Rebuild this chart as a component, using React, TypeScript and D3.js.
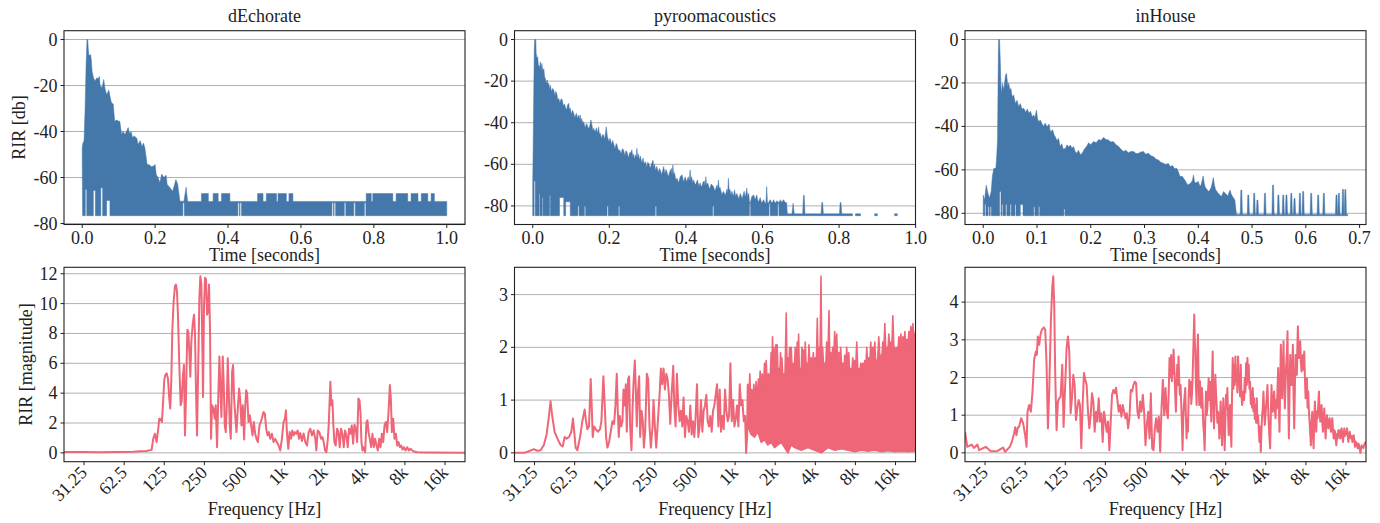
import React from "react";
import * as d3 from "d3";

type Pt = [number, number];
type Span = [number, number, number];

const FONT = "'Liberation Serif', 'Times New Roman', Times, serif";
const BLUE = "#4477AA";
const PINK = "#EE6677";
const INK = "#222222";
const GRID = "#b0b0b0";

// ---------- tick / label data ----------
const TITLES = ["dEchorate", "pyroomacoustics", "inHouse"];
const DB_TICKS = [0, -20, -40, -60, -80];
const TIME_TICKS_A = [0, 0.2, 0.4, 0.6, 0.8, 1.0];
const TIME_TICKS_C = [0, 0.1, 0.2, 0.3, 0.4, 0.5, 0.6, 0.7];
const FREQ_TICKS = [31.25, 62.5, 125, 250, 500, 1000, 2000, 4000, 8000, 16000];
const FREQ_LABELS = ["31.25", "62.5", "125", "250", "500", "1k", "2k", "4k", "8k", "16k"];
const FREQ_LIMITS: [number, number] = [22.1, 22600];
const MAG_TICKS_A = [0, 2, 4, 6, 8, 10, 12];
const MAG_TICKS_B = [0, 1, 2, 3];
const MAG_TICKS_C = [0, 1, 2, 3, 4];

// ---------- RIR (dB) data: upper envelope, floor, bumps, notches ----------
const DECH_FLOOR = -76.6;
const DECH_BAND = -70.4;
const DECH_TOP_EARLY: Pt[] = [
  [0.000, -47], [0.002, -45], [0.005, -44], [0.0077, -31], [0.0105, -12], [0.013, 0], [0.015, 0],
  [0.017, -5], [0.018, -6.5], [0.021, -7], [0.023, -6.5], [0.025, -9], [0.027, -13.8], [0.031, -16.7],
  [0.035, -18], [0.040, -16.7], [0.045, -17], [0.047, -16], [0.049, -20], [0.054, -21], [0.057, -19], [0.059, -17.4],
  [0.062, -21], [0.067, -24], [0.070, -23], [0.073, -22], [0.076, -24.6], [0.080, -27.5], [0.085, -28],
  [0.089, -35.5], [0.095, -35], [0.100, -35.5], [0.103, -35.5], [0.108, -41.3], [0.112, -40], [0.117, -41.3],
  [0.122, -39.8], [0.126, -38.3], [0.130, -41], [0.134, -40], [0.138, -42.6], [0.143, -42], [0.150, -43], [0.153, -45.6],
  [0.159, -44], [0.164, -46.5], [0.168, -45], [0.172, -47.3], [0.178, -54.3], [0.184, -54.5], [0.190, -55.3],
  [0.196, -55], [0.200, -54.3], [0.203, -58.7], [0.208, -60], [0.213, -62.3], [0.218, -58.5], [0.224, -60], [0.230, -59], [0.233, -63],
  [0.241, -64.5], [0.248, -66], [0.257, -60.9], [0.262, -63], [0.268, -70.3], [0.279, -70.3],
  [0.285, -64.2], [0.289, -70.3], [0.292, -70.4],
];
const DECH_BUMPS: Span[] = [
  [0.327, 0.346, -67], [0.359, 0.373, -67], [0.382, 0.405, -67], [0.481, 0.496, -67],
  [0.505, 0.533, -67], [0.537, 0.560, -67], [0.567, 0.578, -67], [0.779, 0.793, -67],
  [0.797, 0.852, -67], [0.861, 0.893, -67], [0.902, 0.921, -67], [0.930, 0.948, -67], [0.957, 0.966, -67],
];
const DECH_BOTTOM_START: Pt[] = [[0.000, -52], [0.001, -76.6]];
const DECH_NOTCHES: Span[] = [
  [0.0085, 0.0123, -65.2], [0.0305, 0.036, -65.6], [0.051, 0.056, -64.5], [0.067, 0.076, -70],
  [0.276, 0.280, -71], [0.427, 0.431, -71], [0.433, 0.437, -71], [0.685, 0.689, -71], [0.691, 0.695, -71],
  [0.719, 0.723, -71], [0.745, 0.749, -71], [0.774, 0.778, -71],
];
const DECH_END = 1.0;

const PYRO_FLOOR = -84.7;
const PYRO_TOP: Pt[] = [
  [0, -70], [0.0017, -42], [0.004, -5], [0.005, 0], [0.008, 0], [0.009, -6.7], [0.011, -9], [0.013, -8.3], [0.015, -13],
  [0.0165, -12.3], [0.018, -14], [0.02, -10.7], [0.022, -14], [0.024, -11.5], [0.026, -15], [0.029, -14], [0.031, -18],
  [0.033, -18.7], [0.035, -21], [0.038, -19.5], [0.040, -22], [0.042, -21], [0.044, -24], [0.046, -22], [0.049, -25],
  [0.052, -23.5], [0.055, -24.3], [0.058, -27], [0.060, -25], [0.063, -26], [0.065, -29], [0.068, -28.3], [0.071, -30.5],
  [0.074, -28.5], [0.077, -29], [0.080, -32], [0.083, -31], [0.085, -32.3], [0.088, -34], [0.091, -31.5], [0.094, -30.7],
  [0.096, -34], [0.098, -33], [0.101, -36], [0.104, -34], [0.107, -35.5], [0.110, -37.5], [0.114, -35.5], [0.117, -38],
  [0.12, -36.3], [0.122, -38.5], [0.124, -36.3], [0.126, -39.5], [0.128, -38], [0.131, -40.5], [0.133, -39.5],
  [0.137, -42.5], [0.14, -40.5], [0.142, -41], [0.146, -43], [0.149, -41.5], [0.152, -38.7], [0.155, -41.5],
  [0.157, -44], [0.159, -42.7], [0.163, -44.5], [0.166, -42.5], [0.169, -45], [0.172, -42], [0.174, -45.5],
  [0.176, -45], [0.18, -47.5], [0.183, -45.5], [0.185, -46], [0.188, -48], [0.19, -45], [0.192, -42], [0.195, -46.7],
  [0.199, -49], [0.202, -47.5], [0.206, -50.5], [0.209, -48.5], [0.211, -50], [0.215, -52.5], [0.218, -50],
  [0.22, -50.7], [0.224, -53.5], [0.227, -53], [0.231, -55], [0.234, -52.5], [0.237, -53], [0.241, -56],
  [0.243, -53.5], [0.246, -54], [0.25, -57], [0.253, -54.5], [0.256, -54.5], [0.259, -53], [0.261, -56.5],
  [0.263, -55], [0.266, -57.5], [0.268, -55.5], [0.270, -57], [0.272, -52.3], [0.274, -57], [0.276, -55],
  [0.279, -58], [0.281, -56], [0.285, -59.5], [0.288, -57], [0.291, -60], [0.294, -58.7], [0.298, -61.5], [0.3, -59],
  [0.303, -59.5], [0.307, -62], [0.31, -60], [0.314, -58], [0.316, -61.5], [0.318, -60], [0.321, -63], [0.324, -61],
  [0.328, -64], [0.331, -62], [0.333, -62.7], [0.337, -65], [0.34, -62.5], [0.342, -61], [0.345, -64.5],
  [0.348, -62.5], [0.35, -63.5], [0.354, -66], [0.358, -63.5], [0.362, -62], [0.364, -65], [0.366, -60.3],
  [0.368, -65], [0.37, -64], [0.374, -67.5], [0.377, -66.7], [0.381, -69], [0.385, -66], [0.39, -65], [0.394, -68.5],
  [0.398, -66], [0.402, -68.5], [0.406, -66], [0.409, -68], [0.411, -62.7], [0.413, -67.5], [0.415, -66],
  [0.418, -69], [0.42, -67.5], [0.425, -70], [0.43, -67.5], [0.434, -70.5], [0.437, -69], [0.441, -71],
  [0.445, -68.5], [0.448, -68], [0.45, -70.5], [0.452, -66], [0.454, -70], [0.457, -69], [0.462, -72],
  [0.466, -69.5], [0.472, -70.7], [0.476, -73], [0.481, -70], [0.483, -72], [0.485, -67.5], [0.487, -72],
  [0.489, -71], [0.494, -74.5], [0.498, -73], [0.503, -75], [0.507, -72], [0.509, -74], [0.511, -66.7],
  [0.513, -73], [0.515, -72], [0.518, -75], [0.52, -73], [0.524, -75.5], [0.527, -72.3], [0.53, -75.5],
  [0.533, -74], [0.538, -76.5], [0.542, -74], [0.547, -76.5], [0.552, -73], [0.555, -76], [0.559, -71.5],
  [0.561, -75.5], [0.564, -74], [0.566, -78], [0.568, -78.7], [0.572, -75.5], [0.577, -74.7], [0.581, -77],
  [0.585, -74.7], [0.588, -77.5], [0.59, -78], [0.594, -76], [0.598, -78.7], [0.603, -77], [0.607, -78.7],
  [0.609, -78.5], [0.611, -70.7], [0.613, -78.5], [0.615, -78.7], [0.62, -77], [0.625, -78.7], [0.629, -77],
  [0.633, -78.7], [0.638, -77.5], [0.643, -78.5], [0.647, -77], [0.65, -78.4], [0.655, -77], [0.659, -78.4],
  [0.663, -78.4], [0.665, -83.8], [0.677, -83.8], [0.68, -78.7], [0.683, -83.8], [0.705, -83.8], [0.707, -75],
  [0.709, -75], [0.711, -83.8], [0.753, -83.8], [0.755, -78.4], [0.757, -78.4], [0.759, -83.8], [0.801, -83.8],
  [0.803, -78.4], [0.805, -78.4], [0.807, -83.8], [0.835, -83.8],
];
const PYRO_NOTCHES: Span[] = [
  [0.0035, 0.0065, -68], [0.017, 0.019, -74], [0.025, 0.027, -76], [0.044, 0.046, -75], [0.070, 0.081, -76],
  [0.086, 0.098, -78], [0.118, 0.121, -80], [0.135, 0.138, -80], [0.194, 0.197, -80], [0.224, 0.227, -80],
  [0.320, 0.323, -80], [0.470, 0.473, -80], [0.566, 0.569, -79], [0.617, 0.620, -79], [0.640, 0.643, -79],
];
const PYRO_END = 0.835;
const PYRO_DASHES: Span[] = [[0.843, 0.856, -83.8], [0.893, 0.900, -83.8], [0.945, 0.952, -83.8]];

const INH_FLOOR = -81.1;
const INH_BASE = -80.5;
const INH_TOP_EARLY: Pt[] = [
  [0.000, -71.6], [0.0025, -73.9], [0.0056, -67], [0.0087, -70.8], [0.0117, -73], [0.0148, -70], [0.017, -63],
  [0.0198, -59.3], [0.0235, -59.3], [0.025, -54], [0.0266, -46.3], [0.028, -10], [0.0285, 0], [0.0303, 0],
  [0.0315, -8], [0.0334, -24.8], [0.0359, -20.2], [0.0383, -23.3], [0.0414, -16.4], [0.0433, -15.6],
  [0.0458, -21.8], [0.0475, -20], [0.0495, -23.3], [0.0515, -22.5], [0.0538, -26.4], [0.0565, -25.5], [0.060, -29.4],
  [0.063, -28], [0.066, -31], [0.069, -29.5], [0.072, -32], [0.0755, -31.7], [0.079, -33.5], [0.082, -32], [0.085, -34],
  [0.088, -33], [0.091, -35.5], [0.094, -34.8], [0.096, -36], [0.099, -32.5], [0.101, -36.5], [0.103, -37.9],
  [0.106, -37], [0.109, -38.6], [0.112, -40], [0.115, -38.5], [0.119, -40.2], [0.1225, -38.9], [0.124, -41.5],
  [0.126, -42.5], [0.129, -41.5], [0.132, -44], [0.134, -44.8], [0.137, -46.5], [0.14, -45.5], [0.143, -49.3],
  [0.146, -48], [0.149, -50.5], [0.153, -50.1], [0.156, -48.5], [0.159, -49.5], [0.162, -48.6], [0.165, -50],
  [0.168, -49.3], [0.171, -51.5], [0.174, -52.4], [0.177, -51], [0.181, -53], [0.184, -52.4], [0.188, -50.5],
  [0.192, -49.3], [0.194, -48.5], [0.196, -47.5], [0.2, -48.5], [0.205, -47], [0.21, -47.5], [0.215, -46],
  [0.219, -46.5], [0.224, -45], [0.228, -46], [0.233, -46.3], [0.237, -47.2], [0.242, -47], [0.247, -48.5],
  [0.252, -49.3], [0.256, -50.5], [0.261, -51.6], [0.265, -51], [0.270, -52.1], [0.275, -51.5], [0.280, -51.6],
  [0.284, -52.5], [0.289, -52.4], [0.293, -51.8], [0.298, -51.6], [0.302, -52.8], [0.307, -52.4], [0.312, -53.5],
  [0.317, -54], [0.321, -55], [0.326, -55.5], [0.33, -56.5], [0.335, -57], [0.34, -57.5], [0.344, -57],
  [0.348, -58.5], [0.352, -58], [0.356, -59.5], [0.360, -59.3], [0.363, -61], [0.366, -63.1], [0.37, -63],
  [0.375, -64.7], [0.378, -66], [0.381, -67], [0.386, -66], [0.389, -65], [0.391, -62.4], [0.393, -65.5],
  [0.395, -66], [0.4, -65.4], [0.403, -67.5], [0.405, -67], [0.407, -65], [0.409, -62.8], [0.411, -66],
  [0.413, -68], [0.419, -70], [0.422, -69], [0.424, -68], [0.426, -66], [0.428, -63.5], [0.430, -67], [0.432, -69],
  [0.437, -70.8], [0.443, -72.3], [0.447, -70], [0.450, -70.8], [0.455, -72], [0.457, -70.5], [0.459, -69.3],
  [0.461, -71], [0.463, -72], [0.468, -73.9], [0.471, -80.5],
];
const INH_SPIKES: Pt[] = [
  [0.480, -69.3], [0.493, -71.6], [0.504, -70.8], [0.510, -73.9], [0.524, -70.8], [0.539, -67], [0.549, -71.6],
  [0.558, -71.6], [0.564, -71.6], [0.573, -70.8], [0.579, -73.2], [0.589, -70.8], [0.595, -70], [0.610, -70.8],
  [0.623, -71.6], [0.6335, -70.8], [0.657, -71.6], [0.6615, -70.8], [0.669, -69], [0.6735, -69],
];
const INH_NOTCHES: Span[] = [
  [0.003, 0.005, -76], [0.009, 0.011, -77], [0.013, 0.015, -77], [0.0305, 0.033, -70], [0.0345, 0.0365, -76],
  [0.042, 0.044, -76], [0.050, 0.052, -76], [0.059, 0.061, -76], [0.069, 0.074, -76], [0.094, 0.096, -77],
  [0.103, 0.105, -77], [0.150, 0.152, -78],
];
const INH_END = 0.678;

// ---------- frequency response data [Hz, magnitude] ----------
const DECH_FREQ: Pt[] = [
  [22.1, 0.05], [31, 0.05], [41, 0.04], [54.7, 0.05], [73, 0.07], [82, 0.1], [92, 0.12], [100.4, 0.2], [103.3, 0.94],
  [106.3, 1.28], [109.5, 0.72], [112.7, 1.62], [114.6, 2.29], [117.3, 2.25], [120.1, 2.07], [122.9, 3.64], [125, 4.88],
  [127.2, 5.21], [130.2, 5.33], [133.2, 4.99], [136.3, 3.64], [138.7, 2.97], [141.1, 4.76], [143.6, 8.13], [147, 10.16],
  [150.4, 11.17], [153, 11.28], [155.7, 10.83], [158.4, 9.26], [162.1, 5.89], [165.9, 3.19], [168.8, 3.42], [172.7, 5.21],
  [175.8, 5.89], [178.8, 1.17], [181.9, 3.64], [186.2, 8.25], [189.5, 8.13], [192.8, 6.79], [196.1, 5.1], [199.6, 7.46],
  [204.2, 8.58], [209, 9.26], [212.7, 7.91], [216.4, 4.09], [220.2, 1.17], [224, 4.99], [229.3, 10.38], [233.3, 11.84],
  [237.3, 11.28], [241.5, 7.01], [244.3, 3.75], [248.6, 9.93], [252.9, 11.73], [257.3, 11.62], [261.8, 9.26],
  [266.4, 9.48], [271.1, 11.28], [275.8, 8.13], [280.6, 0.94], [285.5, 3.19], [292.2, 2.97], [299, 2.29], [304.3, 3.19],
  [311.4, 0.38], [318.7, 4.09], [324.2, 6.45], [329.9, 4.31], [335.7, 2.4], [343.5, 6.45], [349.5, 4.54], [355.6, 1.84],
  [361.8, 1.39], [368.1, 3.19], [374.6, 6.34], [381.1, 4.09], [387.8, 1.84], [394.6, 0.94], [403.8, 5.44], [410.8, 5.89],
  [418, 3.64], [427.8, 2.29], [435.3, 1.39], [445.5, 2.97], [455.9, 4.31], [463.9, 3.64], [474.7, 1.84], [485.8, 3.19],
  [497.1, 0.9], [505.8, 2.97], [514.7, 4.2], [523.7, 3.98], [535.9, 2.07], [548.4, 2.52], [561.3, 1.84], [574.4, 1.17],
  [587.8, 2.07], [601.5, 1.28], [615.6, 0.94], [630, 0.72], [648.4, 1.84], [663.6, 2.07], [679.1, 2.4], [695, 2.74],
  [711.2, 2.6], [727.8, 1.62], [744.8, 1.17], [762.3, 1.39], [780.1, 0.94], [802.9, 1.28], [826.5, 0.72], [850.7, 0.94],
  [875.6, 0.72], [901.3, 0.49], [927.7, 0.16], [954.9, 0.94], [982.8, 2.07], [1006, 2.29], [1023, 2.85], [1041, 1.39],
  [1066, 0.27], [1091, 1.39], [1116, 0.94], [1142, 1.5], [1169, 1.17], [1196, 1.39], [1224, 1.28], [1253, 1.5],
  [1282, 0.94], [1312, 1.33], [1350, 0.8], [1390, 1.3], [1431, 0.72], [1473, 0.49], [1516, 1.39], [1560, 1.62],
  [1606, 1.17], [1653, 1.5], [1701, 0.94], [1731, 0.16], [1772, 1.5], [1823, 1.39], [1877, 0.94], [1921, 1.06],
  [1966, 0.72], [2012, 0.16], [2059, 0.04], [2107, 0.83], [2144, 1.84], [2181, 3.64], [2206, 4.76], [2245, 3.19],
  [2284, 3.53], [2324, 1.84], [2365, 0.72], [2420, 0.49], [2477, 1.62], [2534, 1.39], [2594, 0.38], [2654, 1.62],
  [2716, 1.28], [2780, 0.38], [2845, 1.5], [2911, 1.17], [2979, 0.38], [3049, 1.62], [3120, 1.28], [3193, 1.84],
  [3268, 0.61], [3344, 1.89], [3422, 1.62], [3502, 0.72], [3584, 3.64], [3647, 3.53], [3711, 2.74], [3775, 0.72],
  [3842, 0.16], [3931, 0.38], [4023, 0.04], [4117, 2.07], [4189, 2.18], [4262, 1.39], [4362, 0.94], [4464, 0.38],
  [4568, 1.28], [4675, 0.38], [4784, 0.94], [4896, 0.49], [5011, 0.16], [5128, 0.94], [5248, 0.38], [5370, 1.28],
  [5496, 0.72], [5624, 1.84], [5756, 2.07], [5890, 1.39], [6028, 2.74], [6169, 4.54], [6276, 3.64], [6386, 1.39],
  [6536, 2.29], [6688, 0.94], [6845, 1.28], [7005, 0.49], [7169, 0.72], [7336, 0.38], [7508, 0.49], [7683, 0.22],
  [7862, 0.38], [8093, 0.16], [8330, 0.38], [8574, 0.16], [8826, 0.27], [9084, 0.16], [9350, 0.09], [9906, 0.04],
  [11780, 0.02], [22600, 0.0],
];

const PYRO_FREQ: Pt[] = [
  [22.1, 0], [26, 0], [28.3, 0.03], [30.9, 0.07], [32.7, 0.04], [34.7, 0.05], [36.7, 0.15], [38.5, 0.35], [40.1, 0.7],
  [41.2, 0.98], [42.4, 0.7], [44.2, 0.4], [46.8, 0.25], [49, 0.15], [50.8, 0.12], [52.6, 0.3], [54.4, 0.27], [56.7, 0.3],
  [59, 0.4], [60.7, 0.65], [61.8, 0.45], [63.6, 0.1], [65.5, 0.05], [68.6, 0.3], [71.4, 0.6], [74.3, 0.82], [76.1, 0.6],
  [77.8, 0.45], [80.1, 0.5], [82.5, 1.4], [83.9, 0.9], [85.4, 0.3], [87.4, 0.5], [89.9, 0.45], [93.6, 0.4], [96.9, 0.45],
  [99.2, 0.6], [102.7, 1.45], [105.1, 0.9], [107.6, 0.3], [110.1, 0.1], [113.3, 0.2], [116.6, 0.4], [120.1, 0.6],
  [123.6, 0.55], [126.5, 0.9], [129.4, 1.5], [131.7, 0.8], [134, 0.3], [136.3, 0.7], [139.5, 0.5], [142.8, 0.6],
  [145.3, 1.2], [148.7, 0.9], [151.3, 1.3], [153.9, 0.4], [157.5, 1.4], [160.3, 1.45], [163, 0.5], [166.9, 0.05],
  [169.8, 0.8], [172.7, 1.3], [176.8, 1.75], [179.9, 1.2], [183, 0.5], [186.2, 1.1], [190.6, 1.45], [193.9, 0.3],
  [198.4, 0.8], [203.1, 0.6], [206.6, 0.1], [211.4, 0.4], [217.6, 1.5], [222.7, 1.4], [227.9, 0.5], [233.3, 0.1],
  [240.1, 0.5], [244.3, 1.0], [250, 0.5], [255.9, 0.1], [261.8, 0.5], [271.1, 1.1], [277.4, 1.6], [283.9, 1.3],
  [290.5, 1.6], [297.3, 1.2], [304.3, 1.5], [311.4, 1.4], [318.7, 1.1], [326.1, 0.55], [333.7, 1.1], [343.5, 1.65],
  [349.5, 0.9], [357.7, 0.5], [366, 1.5], [374.6, 0.9], [383.3, 0.6], [392.3, 0.8], [401.5, 0.5], [410.8, 1.05],
  [420.5, 0.3], [430.3, 0.7], [440.4, 0.6], [450.6, 0.4], [461.2, 0.9], [471.9, 0.35], [483, 0.6], [494.3, 0.3],
  [505.8, 0.7], [517.7, 1.3], [529.8, 0.3], [542.1, 0.5], [554.8, 1.0], [567.8, 0.4], [581, 0.8], [594.6, 0.9],
  [608.5, 1.1], [622.7, 0.6], [637.3, 0.5], [652.2, 0.7], [667.4, 0.4], [683, 0.8], [699, 0.9], [715.3, 1.1],
  [732, 1.3], [749.1, 0.5], [766.7, 1.2], [784.6, 0.4], [802.9, 0.7], [821.7, 0.45], [840.9, 1.2], [860.6, 0.8],
  [880.7, 0.6], [901.3, 0.7], [922.3, 1.7], [943.9, 0.6], [966, 1.0], [988.5, 0.5], [1012, 0.65], [1035, 0.9],
  [1059, 0.5], [1084, 1.3], [1110, 0.9], [1135, 1.0], [1162, 0.6], [1189, 0.7], [1210, 0.0], [1231, 0.3], [1245, 1.3],
];
const PYRO_BAND_HI: Pt[] = [
  [1245, 1.3], [1265, 0.9], [1289, 1.5], [1310, 1.0], [1335, 1.2], [1360, 0.9], [1382, 1.3], [1410, 1.0], [1439, 1.35],
  [1468, 1.0], [1498, 1.4], [1520, 1.1], [1542, 1.55], [1570, 1.2], [1597, 1.5], [1630, 1.2], [1663, 1.7], [1690, 1.3],
  [1711, 1.75], [1745, 1.3], [1782, 1.5], [1825, 1.3], [1866, 1.9], [1888, 1.5], [1910, 2.2], [1932, 1.6], [1954, 2.0],
  [1990, 1.5], [2023, 2.05], [2047, 1.6], [2071, 2.05], [2100, 1.5], [2131, 1.6], [2160, 1.4], [2194, 1.9], [2220, 1.5],
  [2245, 1.8], [2285, 1.4], [2324, 1.5], [2370, 1.5], [2420, 2.65], [2455, 1.6], [2491, 1.8], [2527, 1.5], [2564, 2.0],
  [2600, 1.6], [2639, 2.0], [2685, 1.5], [2732, 1.7], [2780, 1.5], [2828, 2.0], [2878, 1.6], [2928, 2.1], [2962, 1.7],
  [2997, 2.25], [3040, 1.5], [3084, 1.6], [3130, 1.5], [3175, 2.0], [3220, 1.6], [3268, 1.95], [3315, 1.6], [3364, 2.1],
  [3420, 1.6], [3482, 1.7], [3530, 1.5], [3584, 2.05], [3660, 1.6], [3732, 1.8], [3800, 1.6], [3864, 1.9], [3930, 1.6],
  [4000, 1.8], [4070, 1.7], [4141, 2.55], [4200, 1.7], [4262, 2.0], [4335, 1.7], [4413, 3.35], [4475, 1.8], [4542, 2.0],
  [4620, 1.6], [4702, 1.7], [4785, 1.6], [4868, 2.1], [4965, 1.8], [5069, 2.7], [5140, 1.7], [5217, 1.9], [5310, 1.7],
  [5402, 2.0], [5495, 1.8], [5592, 2.3], [5690, 1.8], [5789, 2.25], [5890, 1.7], [5993, 1.9], [6100, 1.7], [6204, 2.0],
  [6310, 1.6], [6423, 1.7], [6535, 1.5], [6650, 1.85], [6765, 1.6], [6884, 2.0], [7005, 1.6], [7127, 1.9], [7250, 1.5],
  [7378, 1.6], [7510, 1.5], [7639, 1.8], [7770, 1.6], [7908, 1.75], [8045, 1.6], [8187, 2.1], [8330, 1.6], [8476, 1.6],
  [8625, 1.5], [8774, 1.7], [8930, 1.6], [9084, 1.7], [9245, 1.6], [9405, 1.75], [9570, 1.6], [9736, 2.0], [9905, 1.6],
  [10079, 1.8], [10255, 1.7], [10434, 2.1], [10620, 1.7], [10803, 2.0], [10990, 1.8], [11183, 2.1], [11380, 1.7],
  [11578, 1.7], [11780, 1.8], [11986, 2.2], [12195, 1.8], [12409, 1.85], [12625, 1.8], [12846, 2.1], [13070, 1.9],
  [13300, 2.45], [13530, 1.9], [13769, 2.0], [14010, 1.9], [14254, 2.25], [14505, 1.9], [14757, 2.1], [15015, 2.0],
  [15275, 2.6], [15545, 2.0], [15816, 2.0], [16090, 1.9], [16374, 2.0], [16660, 1.9], [16952, 2.2], [17250, 2.0],
  [17549, 2.25], [17855, 2.0], [18168, 2.2], [18485, 2.0], [18810, 2.3], [19140, 2.0], [19472, 2.15], [19810, 2.0],
  [20158, 2.3], [20510, 2.1], [20869, 2.4], [21235, 2.1], [21606, 2.45], [22000, 2.1], [22600, 2.3],
];
const PYRO_BAND_LO: Pt[] = [
  [1245, 0.5], [1320, 0.35], [1398, 0.3], [1481, 0.4], [1569, 0.2], [1663, 0.25], [1761, 0.15], [1866, 0.2],
  [1977, 0.1], [2095, 0.15], [2219, 0.2], [2491, 0.0], [2639, 0.15], [2796, 0.1], [3138, 0.05], [3523, 0.1],
  [3954, 0.05], [4438, 0.0], [4982, 0.1], [5592, 0.05], [6276, 0.08], [7046, 0.05], [7908, 0.02], [8877, 0.05],
  [9963, 0.03], [11183, 0.05], [12553, 0.02], [14091, 0.04], [15816, 0.02], [17754, 0.03], [19927, 0.02],
  [22600, 0.03],
];

const INH_FREQ: Pt[] = [
  [22.1, 0.56], [23, 0.16], [24.8, 0.22], [25.8, 0.13], [27.4, 0.22], [28.2, 0.07], [31.6, 0.16], [34.5, 0.04],
  [38.7, 0.05], [42.7, 0.14], [44.2, 0.03], [47.9, 0.16], [49.6, 0.29], [51.7, 0.52], [52.6, 0.68], [53.8, 0.47],
  [55, 0.67], [56.3, 0.69], [58.3, 0.92], [60.4, 0.78], [62.5, 0.47], [64, 0.16], [65.1, 1.09], [67, 1.27],
  [69, 1.09], [71, 1.63], [73, 2.47], [75.2, 2.69], [76.5, 2.6], [77.8, 3.09], [79.7, 2.87], [81.5, 3.14],
  [83.4, 3.27], [86.4, 3.33], [88.4, 3.27], [90.5, 2.34], [92.6, 0.65], [94.7, 1.63], [97.5, 3.49], [99.8, 4.38],
  [101.5, 4.69], [103.3, 3.94], [105.1, 2.07], [107.6, 0.6], [110.1, 1.36], [112.7, 1.45], [115.3, 1.49],
  [118.7, 2.34], [121.4, 0.69], [124.3, 1.63], [127.9, 2.78], [130.9, 3.09], [134, 2.69], [137.1, 1.05],
  [140.3, 1.45], [143.6, 2.07], [147, 1.8], [150.4, 0.87], [153.9, 1.18], [157.5, 1.4], [161.2, 1.27],
  [164.9, 0.12], [168.8, 1.27], [172.7, 2.12], [176.8, 1.94], [180.9, 1.8], [185.1, 1.09], [189.5, 0.65],
  [193.9, 1.0], [198.4, 1.58], [203.1, 1.36], [207.8, 0.56], [212.7, 1.09], [217.6, 0.83], [222.7, 1.45],
  [227.9, 0.83], [233.3, 1.05], [238.7, 0.29], [244.3, 1.09], [250, 0.83], [255.9, 0.56], [261.8, 0.83],
  [268, 0.07], [274.2, 0.83], [280.6, 1.54], [287.2, 1.67], [293.9, 1.58], [300.8, 1.73], [307.8, 1.4],
  [315, 1.09], [322.4, 1.27], [329.9, 0.96], [337.6, 1.27], [345.5, 1.09], [353.6, 0.92], [361.8, 1.05],
  [370.3, 0.65], [378.9, 0.92], [387.8, 1.67], [396.9, 1.63], [406.1, 1.8], [415.6, 1.89], [425.3, 1.85],
  [435.3, 1.09], [445.5, 0.92], [455.9, 1.36], [466.5, 1.09], [477.4, 1.54], [488.6, 1.09], [500, 0.2],
  [511.7, 0.74], [523.7, 1.09], [535.9, 0.38], [548.4, 1.58], [561.3, 0.12], [574.4, 0.07], [587.8, 0.65],
  [601.5, 0.92], [615.6, 0.56], [630, 0.96], [644.7, 0.03], [659.8, 1.18], [675.2, 1.94], [691, 1.0],
  [707.1, 1.72], [721, 1.1], [736.2, 0.92], [747, 1.6], [757.9, 2.52], [769, 2.0], [780.1, 2.6], [789, 1.9], [798.3, 2.43],
  [805, 2.1], [812.3, 2.74], [826.5, 2.07], [835, 1.6], [845.8, 1.09], [855, 1.8], [865.6, 2.34], [875, 1.8], [885.8, 2.56],
  [896, 1.9], [906.5, 1.54], [917, 1.8], [927.7, 1.27], [938, 0.8], [949.4, 0.07], [960, 0.9], [971.6, 1.27], [983, 1.5],
  [994.3, 1.72], [1005, 1.0], [1017, 0.38], [1029, 0.9], [1041, 0.56], [1053, 1.4], [1066, 1.94], [1078, 1.5],
  [1091, 1.89], [1103, 1.3], [1116, 1.54], [1129, 2.0], [1142, 2.69], [1152, 3.2], [1162, 3.67], [1172, 3.0],
  [1182, 2.78], [1196, 1.8], [1210, 1.27], [1224, 2.4], [1238, 3.14], [1252, 2.0], [1267, 1.27], [1282, 1.9],
  [1297, 1.54], [1312, 1.2], [1327, 1.72], [1342, 1.3], [1358, 0.74], [1374, 0.5], [1390, 0.07], [1406, 0.9],
  [1422, 1.63], [1439, 1.0], [1456, 1.18], [1473, 1.6], [1490, 1.98], [1508, 1.4], [1525, 1.89], [1542, 1.3],
  [1560, 0.83], [1578, 1.9], [1597, 2.69], [1615, 1.5], [1634, 0.65], [1653, 1.4], [1672, 2.07], [1691, 1.6],
  [1711, 1.27], [1731, 0.8], [1751, 1.09], [1771, 0.9], [1792, 0.38], [1813, 0.9], [1834, 1.36], [1855, 0.7],
  [1877, 0.2], [1899, 0.9], [1921, 1.45], [1943, 0.8], [1966, 0.07], [1989, 0.9], [2012, 1.54], [2035, 1.2],
  [2059, 1.72], [2083, 1.0], [2107, 0.47], [2131, 0.9], [2156, 1.27], [2181, 0.6], [2206, 0.16], [2232, 1.5],
  [2258, 2.52], [2284, 1.7], [2311, 2.34], [2338, 1.8], [2365, 2.56], [2392, 1.9], [2420, 2.16], [2448, 1.6],
  [2477, 2.56], [2505, 1.9], [2534, 1.89], [2564, 1.5], [2594, 2.34], [2624, 1.6], [2654, 1.27], [2685, 1.4],
  [2716, 1.63], [2748, 1.4], [2780, 1.98], [2812, 1.6], [2845, 2.38], [2878, 1.8], [2911, 2.52], [2945, 1.9],
  [2979, 2.34], [3014, 1.7], [3049, 1.89], [3084, 1.3], [3120, 1.63], [3156, 1.2], [3193, 1.72], [3230, 1.1],
  [3268, 1.45], [3306, 0.9], [3344, 1.27], [3383, 0.8], [3422, 1.45], [3462, 0.8], [3502, 1.0], [3543, 0.6],
  [3584, 0.29], [3626, 0.7], [3668, 0.03], [3711, 0.6], [3754, 1.0], [3798, 1.2], [3842, 1.63], [3886, 1.1],
  [3931, 0.74], [3977, 1.0], [4023, 1.27], [4070, 1.5], [4117, 1.8], [4165, 1.2], [4213, 0.74], [4262, 0.4],
  [4312, 0.12], [4362, 1.0], [4413, 1.8], [4464, 1.3], [4516, 1.09], [4569, 1.4], [4622, 1.63], [4676, 1.2],
  [4730, 0.92], [4785, 1.4], [4840, 1.18], [4896, 1.7], [4953, 2.25], [5011, 1.3], [5069, 0.56], [5128, 1.8],
  [5187, 2.87], [5247, 2.0], [5308, 1.45], [5370, 2.3], [5432, 2.96], [5496, 1.9], [5560, 1.18], [5624, 1.8],
  [5690, 2.34], [5756, 2.6], [5822, 3.23], [5890, 1.5], [5958, 0.38], [6028, 1.6], [6098, 2.6], [6169, 2.0],
  [6240, 1.8], [6313, 2.3], [6386, 2.87], [6461, 1.5], [6536, 0.65], [6612, 1.7], [6688, 2.6], [6766, 2.2],
  [6845, 2.07], [6900, 2.8], [6964, 3.36], [7025, 2.9], [7086, 2.52], [7170, 2.8], [7252, 2.96], [7336, 2.4],
  [7421, 2.16], [7508, 2.4], [7595, 2.6], [7683, 2.2], [7772, 2.69], [7862, 2.0], [7954, 1.45], [8046, 1.8],
  [8140, 1.98], [8234, 1.2], [8330, 1.63], [8427, 1.1], [8525, 0.83], [8624, 0.5], [8724, 0.2], [8826, 0.8],
  [8928, 1.09], [9032, 0.5], [9137, 0.12], [9243, 0.9], [9350, 1.36], [9459, 0.9], [9569, 0.56], [9680, 1.1],
  [9793, 0.92], [9907, 1.3], [10022, 1.63], [10139, 1.1], [10256, 0.83], [10375, 1.1], [10495, 1.27], [10617, 0.8],
  [10741, 0.56], [10866, 0.9], [10992, 1.18], [11120, 0.7], [11249, 0.38], [11380, 0.8], [11511, 1.0], [11645, 0.8],
  [11780, 0.65], [11918, 0.8], [12056, 0.92], [12196, 0.7], [12338, 0.56], [12481, 0.8], [12626, 0.92],
  [12773, 0.6], [12922, 0.38], [13072, 0.6], [13223, 0.56], [13377, 0.4], [13532, 0.2], [13690, 0.5], [13849, 0.38],
  [14010, 0.6], [14173, 0.6], [14338, 0.45], [14504, 0.38], [14673, 0.6], [14843, 0.65], [15015, 0.45],
  [15190, 0.29], [15367, 0.5], [15545, 0.65], [15726, 0.45], [15908, 0.56], [16093, 0.5], [16280, 0.65],
  [16470, 0.45], [16661, 0.29], [16854, 0.45], [17050, 0.56], [17248, 0.45], [17448, 0.38], [17651, 0.45],
  [17856, 0.29], [18064, 0.4], [18274, 0.47], [18486, 0.3], [18699, 0.16], [18918, 0.3], [19138, 0.25],
  [19361, 0.2], [19586, 0.12], [19813, 0.25], [20043, 0.2], [20276, 0.1], [20512, 0.0], [20750, 0.12],
  [20990, 0.2], [21300, 0.15], [21606, 0.13], [22100, 0.25], [22600, 0.29],
];

// ---------- layout ----------
const COL_X = [64, 514.5, 965];
const PANEL_W = 401;
const ROW_TOP: [number, number] = [30.7, 224.5];
const ROW_BOT: [number, number] = [267.3, 461.7];
const FS = 18;

// ---------- helpers building outlines from the data ----------
function withBumps(early: Pt[], base: number, bumps: Span[], tEnd: number): Pt[] {
  const pts: Pt[] = [...early];
  for (const [a, b, l] of bumps) pts.push([a, base], [a, l], [b, l], [b, base]);
  pts.push([tEnd, base]);
  return pts;
}
function withNotches(start: Pt[], floor: number, notches: Span[], tEnd: number): Pt[] {
  const pts: Pt[] = [...start];
  for (const [a, b, l] of notches) pts.push([a, floor], [a, l], [b, l], [b, floor]);
  pts.push([tEnd, floor]);
  return pts;
}
function withSpikes(early: Pt[], base: number, spikes: Pt[], tEnd: number, hw = 0.002): Pt[] {
  const pts: Pt[] = [...early];
  for (const [t, p] of spikes) pts.push([t - hw, base], [t - hw * 0.45, p], [t + hw * 0.45, p], [t + hw, base]);
  pts.push([tEnd, base]);
  return pts;
}
const padded = (e: [number, number]): [number, number] => {
  const r = e[1] - e[0];
  return [e[0] - 0.05 * r, e[1] + 0.05 * r];
};

function Frame({ x0, y0, y1 }: { x0: number; y0: number; y1: number }) {
  return <rect x={x0} y={y0} width={PANEL_W} height={y1 - y0} fill="none" stroke={INK} strokeWidth={1.1} />;
}

function YAxis({ x0, y, ticks }: { x0: number; y: any; ticks: number[] }) {
  return (
    <g>
      {ticks.map((v) => (
        <g key={v}>
          <line x1={x0 - 3.5} x2={x0} y1={y(v)} y2={y(v)} stroke={INK} strokeWidth={1} />
          <text x={x0 - 6.5} y={y(v)} dy={6} textAnchor="end" fontSize={FS} fill={INK}>
            {String(v)}
          </text>
        </g>
      ))}
    </g>
  );
}

function Grid({ x0, y, ticks }: { x0: number; y: any; ticks: number[] }) {
  return (
    <g>
      {ticks.map((v) => (
        <line key={v} x1={x0} x2={x0 + PANEL_W} y1={y(v)} y2={y(v)} stroke={GRID} strokeWidth={1} />
      ))}
    </g>
  );
}

function RirPanel(props: {
  col: number; title: string; top: Pt[]; bottom: Pt[]; dashes?: Span[]; floor: number;
  xTicks: number[]; ylabel?: string;
}) {
  const { col, title, top, bottom, dashes = [], floor, xTicks, ylabel } = props;
  const x0 = COL_X[col];
  const [y0, y1] = ROW_TOP;
  const dashPts: Pt[] = dashes.flatMap(([a, b, l]) => [[a, l], [b, l]] as Pt[]);
  const all: Pt[] = [...top, ...bottom, ...dashPts];
  const x = d3.scaleLinear().domain(padded(d3.extent(all, (d) => d[0]) as [number, number])).range([x0, x0 + PANEL_W]);
  const y = d3.scaleLinear().domain(padded(d3.extent(all, (d) => d[1]) as [number, number])).range([y1, y0]);
  const line = d3.line<Pt>().x((d) => x(d[0])).y((d) => y(d[1]));
  const outline = line([...top, ...bottom.slice().reverse()]) + "Z";
  const clip = `clipTop${col}`;
  return (
    <g>
      <defs>
        <clipPath id={clip}>
          <rect x={x0} y={y0} width={PANEL_W} height={y1 - y0} />
        </clipPath>
      </defs>
      <Grid x0={x0} y={y} ticks={DB_TICKS} />
      <g clipPath={`url(#${clip})`}>
        <path d={outline} fill={BLUE} stroke={BLUE} strokeWidth={0.5} strokeLinejoin="round" />
        {dashes.map(([a, b, l], i) => (
          <path key={i} d={line([[a, l], [b, l], [b, floor], [a, floor]] as Pt[]) + "Z"} fill={BLUE} stroke={BLUE} strokeWidth={0.5} />
        ))}
      </g>
      <Frame x0={x0} y0={y0} y1={y1} />
      <YAxis x0={x0} y={y} ticks={DB_TICKS} />
      {xTicks.map((v) => (
        <g key={v}>
          <line x1={x(v)} x2={x(v)} y1={y1} y2={y1 + 3.5} stroke={INK} strokeWidth={1} />
          <text x={x(v)} y={243.5} textAnchor="middle" fontSize={FS} fill={INK}>
            {v.toFixed(1)}
          </text>
        </g>
      ))}
      <text x={x0 + PANEL_W / 2} y={22} textAnchor="middle" fontSize={FS} fill={INK}>
        {title}
      </text>
      <text x={x0 + PANEL_W / 2} y={261} textAnchor="middle" fontSize={FS} fill={INK}>
        Time [seconds]
      </text>
      {ylabel && (
        <text transform={`translate(24.5,${(y0 + y1) / 2}) rotate(-90)`} textAnchor="middle" fontSize={FS} fill={INK}>
          {ylabel}
        </text>
      )}
    </g>
  );
}

function FreqPanel(props: { col: number; line: Pt[]; bandHi?: Pt[]; bandLo?: Pt[]; yTicks: number[]; ylabel?: string }) {
  const { col, line: data, bandHi = [], bandLo = [], yTicks, ylabel } = props;
  const x0 = COL_X[col];
  const [y0, y1] = ROW_BOT;
  const all = [...data, ...bandHi, ...bandLo];
  const x = d3.scaleLog().domain(FREQ_LIMITS).range([x0, x0 + PANEL_W]);
  const y = d3.scaleLinear().domain(padded(d3.extent(all, (d) => d[1]) as [number, number])).range([y1, y0]);
  const line = d3.line<Pt>().x((d) => x(d[0])).y((d) => y(d[1]));
  const clip = `clipBot${col}`;
  return (
    <g>
      <defs>
        <clipPath id={clip}>
          <rect x={x0} y={y0} width={PANEL_W} height={y1 - y0} />
        </clipPath>
      </defs>
      <Grid x0={x0} y={y} ticks={yTicks} />
      <g clipPath={`url(#${clip})`}>
        <path d={line(data) || ""} fill="none" stroke={PINK} strokeWidth={2} strokeLinejoin="round" />
        {bandHi.length > 0 && (
          <path
            d={line([...bandHi, ...bandLo.slice().reverse()]) + "Z"}
            fill={PINK}
            stroke={PINK}
            strokeWidth={1.6}
            strokeLinejoin="round"
          />
        )}
      </g>
      <Frame x0={x0} y0={y0} y1={y1} />
      <YAxis x0={x0} y={y} ticks={yTicks} />
      {FREQ_TICKS.map((v, i) => (
        <g key={v}>
          <line x1={x(v)} x2={x(v)} y1={y1} y2={y1 + 3.5} stroke={INK} strokeWidth={1} />
          <text
            transform={`translate(${x(v) + 4},${y1 + 12}) rotate(-45)`}
            textAnchor="end"
            fontSize={FS}
            fill={INK}
          >
            {FREQ_LABELS[i]}
          </text>
        </g>
      ))}
      <text x={x0 + PANEL_W / 2} y={515} textAnchor="middle" fontSize={FS} fill={INK}>
        Frequency [Hz]
      </text>
      {ylabel && (
        <text transform={`translate(31.5,${(y0 + y1) / 2}) rotate(-90)`} textAnchor="middle" fontSize={FS} fill={INK}>
          {ylabel}
        </text>
      )}
    </g>
  );
}

export default function App() {
  const dechTop = withBumps(DECH_TOP_EARLY, DECH_BAND, DECH_BUMPS, DECH_END);
  const dechBottom = withNotches(DECH_BOTTOM_START, DECH_FLOOR, DECH_NOTCHES, DECH_END);
  const pyroBottom = withNotches([[0, PYRO_FLOOR]], PYRO_FLOOR, PYRO_NOTCHES, PYRO_END);
  const inhTop = withSpikes(INH_TOP_EARLY, INH_BASE, INH_SPIKES, INH_END);
  const inhBottom = withNotches([[0, INH_FLOOR]], INH_FLOOR, INH_NOTCHES, INH_END);
  return (
    <svg
      width={1380}
      height={523}
      viewBox="0 0 1380 523"
      style={{ position: "absolute", left: 0, top: 0, background: "#fff" }}
      fontFamily={FONT}
    >
      <rect x={0} y={0} width={1380} height={523} fill="#fff" />
      <RirPanel col={0} title={TITLES[0]} top={dechTop} bottom={dechBottom} floor={DECH_FLOOR} xTicks={TIME_TICKS_A} ylabel="RIR [db]" />
      <RirPanel col={1} title={TITLES[1]} top={PYRO_TOP} bottom={pyroBottom} dashes={PYRO_DASHES} floor={PYRO_FLOOR} xTicks={TIME_TICKS_A} />
      <RirPanel col={2} title={TITLES[2]} top={inhTop} bottom={inhBottom} floor={INH_FLOOR} xTicks={TIME_TICKS_C} />
      <FreqPanel col={0} line={DECH_FREQ} yTicks={MAG_TICKS_A} ylabel="RIR [magnitude]" />
      <FreqPanel col={1} line={PYRO_FREQ} bandHi={PYRO_BAND_HI} bandLo={PYRO_BAND_LO} yTicks={MAG_TICKS_B} />
      <FreqPanel col={2} line={INH_FREQ} yTicks={MAG_TICKS_C} />
    </svg>
  );
}
